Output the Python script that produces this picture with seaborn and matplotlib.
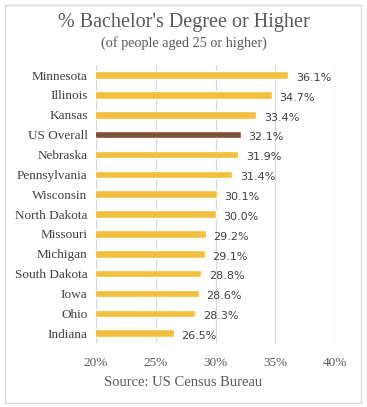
import matplotlib
matplotlib.use("Agg")
import matplotlib.pyplot as plt
import seaborn as sns
import pandas as pd
from matplotlib.patches import Rectangle

states = ["Minnesota", "Illinois", "Kansas", "US Overall", "Nebraska", "Pennsylvania",
          "Wisconsin", "North Dakota", "Missouri", "Michigan", "South Dakota", "Iowa",
          "Ohio", "Indiana"]
values = [36.1, 34.7, 33.4, 32.1, 31.9, 31.4, 30.1, 30.0, 29.2, 29.1, 28.8, 28.6, 28.3, 26.5]
xticks = [20, 25, 30, 35, 40]

df = pd.DataFrame({"state": states, "value": values})
palette = {s: ("#7F4F36" if s == "US Overall" else "#F2C03E") for s in states}

sns.set_style("white")
serif = ["Liberation Serif", "DejaVu Serif"]

fig = plt.figure(figsize=(3.67, 4.07), dpi=100)
ax = fig.add_axes([0.2616, 0.157, 0.6512, 0.683])

sns.barplot(data=df, x="value", y="state", hue="state", palette=palette,
            order=states, legend=False, width=0.38, saturation=1, ax=ax, orient="h")

ax.set_xlim(20, 40)
ax.set_ylim(13.5, -0.5)
ax.set_xticks(xticks)
ax.set_xticklabels([f"{t}%" for t in xticks], fontfamily=serif, fontsize=9.5, color="#595959")
ax.set_yticks(range(len(states)))
ax.set_yticklabels(states, fontfamily=serif, fontsize=9.5, color="#404040")
ax.tick_params(axis="both", length=0, pad=6)
ax.tick_params(axis="x", pad=10)
ax.set_xlabel("")
ax.set_ylabel("")
for sp in ax.spines.values():
    sp.set_visible(False)
ax.grid(axis="x", color="#d9d9d9", linewidth=0.9)
ax.set_axisbelow(True)

for i, v in enumerate(values):
    ax.annotate(f"{v:.1f}%", xy=(v, i), xytext=(5.5, -2), textcoords="offset points",
                va="center", ha="left", fontsize=8, color="#404040", fontfamily="DejaVu Sans")

fig.text(0.5, 0.945, "% Bachelor's Degree or Higher", ha="center", va="center",
         fontfamily=serif, fontsize=14.5, color="#595959")
fig.text(0.5, 0.895, "(of people aged 25 or higher)", ha="center", va="center",
         fontfamily=serif, fontsize=10.3, color="#595959")
fig.text(0.5, 0.059, "Source: US Census Bureau", ha="center", va="center",
         fontfamily=serif, fontsize=10.5, color="#595959")

fig.patches.append(Rectangle((5/367, 4/407), 356/367, 398/407, transform=fig.transFigure,
                             fill=False, edgecolor="#d9d9d9", linewidth=1))

fig.savefig("out.png", dpi=100)
